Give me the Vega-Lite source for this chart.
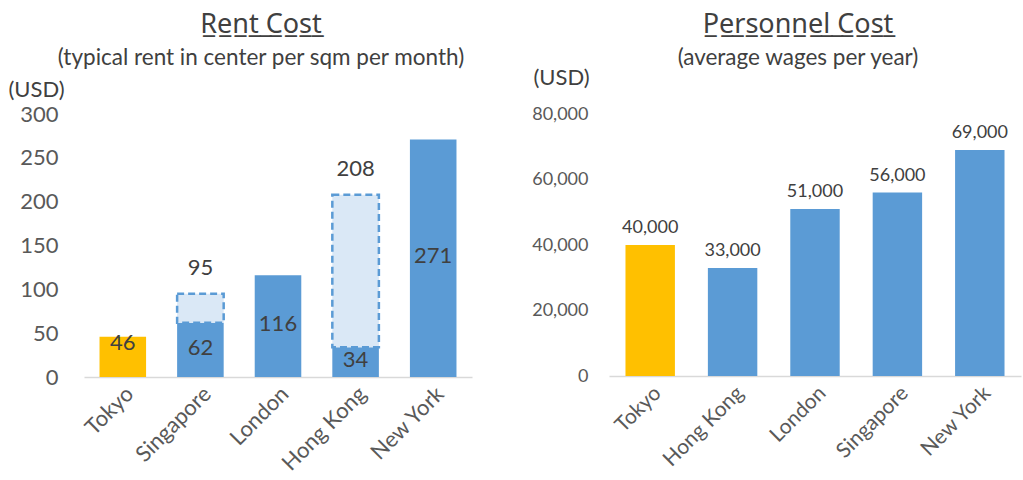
{
  "$schema": "https://vega.github.io/schema/vega-lite/v6.json",
  "padding": {"left": 8, "top": 10, "right": 2, "bottom": 0},
  "background": "white",
  "config": {
    "font": "Lato",
    "view": {"stroke": null},
    "axis": {"grid": false, "ticks": false, "labelColor": "#595959", "titleColor": "#404040", "labelFont": "Lato", "titleFont": "Lato"},
    "title": {"font": "Noto Sans", "color": "#404040", "subtitleColor": "#404040", "subtitleFont": "Lato", "fontWeight": "normal"}
  },
  "spacing": 59,
  "hconcat": [
    {
      "width": 388,
      "height": 263,
      "title": {"text": "R̲e̲n̲t̲ ̲C̲o̲s̲t̲", "subtitle": "(typical rent in center per sqm per month)", "fontSize": 27, "subtitleFontSize": 22.5, "subtitlePadding": 8, "anchor": "middle", "dx": -17, "offset": 8},
      "data": {"values": [
        {"city": "Tokyo", "rent": 46, "high": null, "home": "yes"},
        {"city": "Singapore", "rent": 62, "high": 95, "home": "no"},
        {"city": "London", "rent": 116, "high": null, "home": "no"},
        {"city": "Hong Kong", "rent": 34, "high": 208, "home": "no"},
        {"city": "New York", "rent": 271, "high": null, "home": "no"}
      ]},
      "encoding": {
        "x": {"field": "city", "type": "nominal", "sort": null, "scale": {"paddingInner": 0.4, "paddingOuter": 0.2},
          "axis": {"title": null, "labelAngle": -45, "labelFontSize": 22, "labelPadding": 6, "domainColor": "#D9D9D9", "domainWidth": 1.5, "labelColor": "#595959"}}
      },
      "layer": [
        {
          "mark": {"type": "bar"},
          "encoding": {
            "y": {"field": "rent", "type": "quantitative", "scale": {"domain": [0, 300]},
              "axis": {"values": [0, 50, 100, 150, 200, 250, 300], "domain": false, "labelFontSize": 22, "labelPadding": 26, "title": "(USD)", "titleAngle": 0, "titleAlign": "left", "titleBaseline": "middle", "titleFontSize": 22, "titleFontWeight": "normal", "titleX": -76, "titleY": -25}},
            "color": {"field": "home", "type": "nominal", "scale": {"domain": ["yes", "no"], "range": ["#FFC000", "#5B9BD5"]}, "legend": null}
          }
        },
        {
          "transform": [{"filter": "datum.high != null"}],
          "mark": {"type": "bar", "fill": "#DAE8F6", "stroke": "#5B9BD5", "strokeWidth": 2.5, "strokeDash": [7, 4]},
          "encoding": {
            "y": {"field": "rent", "type": "quantitative"},
            "y2": {"field": "high"}
          }
        },
        {
          "transform": [{"filter": "datum.high != null"}],
          "mark": {"type": "text", "fontSize": 22, "color": "#404040", "dy": -26},
          "encoding": {
            "y": {"field": "high", "type": "quantitative"},
            "text": {"field": "high", "type": "quantitative"}
          }
        },
        {
          "transform": [{"filter": "datum.city != 'Tokyo'"}, {"calculate": "datum.rent / 2", "as": "mid"}],
          "mark": {"type": "text", "fontSize": 22, "color": "#404040", "dy": -2},
          "encoding": {
            "y": {"field": "mid", "type": "quantitative"},
            "text": {"field": "rent", "type": "quantitative"}
          }
        },
        {
          "transform": [{"filter": "datum.city == 'Tokyo'"}],
          "mark": {"type": "text", "fontSize": 22, "color": "#404040", "dy": 6},
          "encoding": {
            "y": {"field": "rent", "type": "quantitative"},
            "text": {"field": "rent", "type": "quantitative"}
          }
        }
      ]
    },
    {
      "width": 412,
      "height": 262,
      "title": {"text": "P̲e̲r̲s̲o̲n̲n̲e̲l̲ ̲C̲o̲s̲t̲", "subtitle": "(average wages per year)", "fontSize": 27, "subtitleFontSize": 22.5, "subtitlePadding": 8, "anchor": "middle", "dx": -17, "offset": -4},
      "data": {"values": [
        {"city": "Tokyo", "wage": 40000, "home": "yes"},
        {"city": "Hong Kong", "wage": 33000, "home": "no"},
        {"city": "London", "wage": 51000, "home": "no"},
        {"city": "Singapore", "wage": 56000, "home": "no"},
        {"city": "New York", "wage": 69000, "home": "no"}
      ]},
      "encoding": {
        "x": {"field": "city", "type": "nominal", "sort": null, "scale": {"paddingInner": 0.4, "paddingOuter": 0.2},
          "axis": {"title": null, "labelAngle": -45, "labelFontSize": 21, "labelPadding": 6, "domainColor": "#D9D9D9", "domainWidth": 1.5}},
        "y": {"field": "wage", "type": "quantitative", "scale": {"domain": [0, 80000]},
          "axis": {"values": [0, 20000, 40000, 60000, 80000], "format": ",.0f", "domain": false, "labelFontSize": 18, "labelPadding": 21, "title": "(USD)", "titleAngle": 0, "titleAlign": "left", "titleBaseline": "middle", "titleFontSize": 22, "titleFontWeight": "normal", "titleX": -76, "titleY": -37}}
      },
      "layer": [
        {
          "mark": {"type": "bar"},
          "encoding": {
            "color": {"field": "home", "type": "nominal", "scale": {"domain": ["yes", "no"], "range": ["#FFC000", "#5B9BD5"]}, "legend": null}
          }
        },
        {
          "mark": {"type": "text", "fontSize": 18, "color": "#404040", "dy": -17},
          "encoding": {
            "text": {"field": "wage", "type": "quantitative", "format": ",.0f"}
          }
        }
      ]
    }
  ]
}
